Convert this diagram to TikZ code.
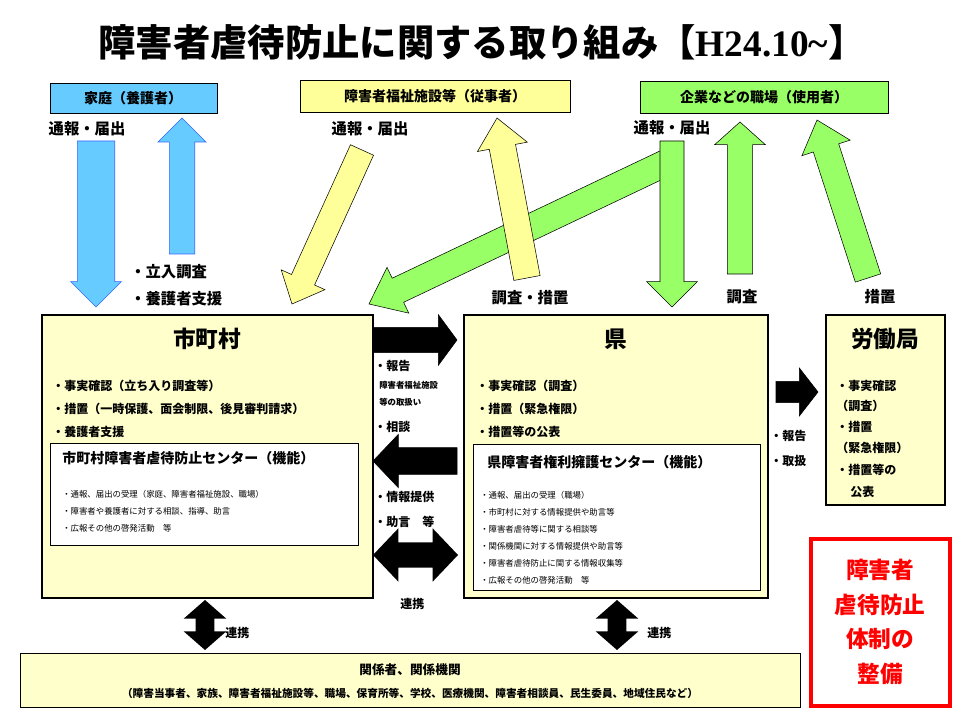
\documentclass[tikz,border=0pt]{standalone}
\usepackage{fontspec}
\setmainfont{Noto Sans CJK JP}[BoldFont={Noto Sans CJK JP Black}]
\newfontfamily\serifb{Liberation Serif}
\usetikzlibrary{calc}
\definecolor{cblue}{HTML}{66CCFF}
\definecolor{cyel}{HTML}{FFFF99}
\definecolor{cgreen}{HTML}{99FF66}
\definecolor{cbox}{HTML}{FFFFCC}
\newcommand\barrow[6]{%
 \coordinate (h) at ($(#3)!#6!(#2)$);
 \filldraw[#1] ($(#2)!#4!90:(#3)$) -- ($(h)!#4!-90:(#2)$) -- ($(h)!#5!-90:(#2)$) -- (#3) -- ($(h)!#5!90:(#2)$) -- ($(h)!#4!90:(#2)$) -- ($(#2)!#4!-90:(#3)$) -- cycle;}
\newcommand\dbarrow[6]{%
 \coordinate (h1) at ($(#3)!#6!(#2)$);
 \coordinate (h2) at ($(#2)!#6!(#3)$);
 \fill[#1] (#2) -- ($(h2)!#5!90:(#3)$) -- ($(h2)!#4!90:(#3)$) -- ($(h1)!#4!-90:(#2)$) -- ($(h1)!#5!-90:(#2)$) -- (#3) -- ($(h1)!#5!90:(#2)$) -- ($(h1)!#4!90:(#2)$) -- ($(h2)!#4!-90:(#3)$) -- ($(h2)!#5!-90:(#3)$) -- cycle;}
\tikzset{
 lbl/.style={font=\bfseries\fontsize{11.5}{13}\selectfont,inner sep=0pt},
 item/.style={anchor=west,font=\bfseries\fontsize{9}{10}\selectfont,inner sep=0pt},
 small/.style={anchor=west,font=\fontsize{6.3}{7}\selectfont,inner sep=0pt},
 head/.style={font=\bfseries\fontsize{10.5}{12}\selectfont,inner sep=0pt},
 mainbox/.style={draw=black,line width=2pt,fill=cbox},
 topbox/.style={draw=black,line width=0.6pt},
 blk/.style={fill=black},
}
\begin{document}
\begin{tikzpicture}[x=0.75pt,y=-0.75pt]
\useasboundingbox (0,0) rectangle (960,720);
\fill[white] (0,0) rectangle (960,720);
% title
\node[font=\bfseries\fontsize{28}{30}\selectfont,inner sep=0pt] (title) at (482,42) {障害者虐待防止に関する取り組み【{\serifb\bfseries H24.10\char`~}】};
% top boxes
\draw[topbox,fill=cblue] (50,83) rectangle (217,113);
\node[head] (home) at (133,98) {家庭（養護者）};
\draw[topbox,fill=cyel] (300,80) rectangle (570,112);
\node[head] (fac) at (435,96) {障害者福祉施設等（従事者）};
\draw[topbox,fill=cgreen] (640,81) rectangle (888,113);
\node[head] (work) at (764,97) {企業などの職場（使用者）};
% colored arrows
\coordinate (b1a) at (96,141); \coordinate (b1b) at (96,307);
\barrow{draw=blue!50!cblue,fill=cblue,line width=0.5pt}{b1a}{b1b}{14pt}{19pt}{19pt}
\coordinate (b2a) at (182,254); \coordinate (b2b) at (182,118);
\barrow{draw=blue!50!cblue,fill=cblue,line width=0.5pt}{b2a}{b2b}{9.5pt}{18pt}{18pt}
\coordinate (y1a) at (362,150); \coordinate (y1b) at (292,304);
\barrow{draw=black,fill=cyel,line width=0.4pt}{y1a}{y1b}{9.5pt}{18pt}{20pt}
\coordinate (g1a) at (672,160); \coordinate (g1b) at (369,304);
\barrow{draw=black,fill=cgreen,line width=0.4pt}{g1a}{g1b}{10pt}{19pt}{24pt}
\coordinate (y2a) at (527,278); \coordinate (y2b) at (497,118);
\barrow{draw=black,fill=cyel,line width=0.4pt}{y2a}{y2b}{10pt}{19pt}{22pt}
\coordinate (g2a) at (672,141); \coordinate (g2b) at (672,307);
\barrow{draw=black,fill=cgreen,line width=0.4pt}{g2a}{g2b}{9pt}{19pt}{19pt}
\coordinate (g3a) at (740,274); \coordinate (g3b) at (740,122);
\barrow{draw=black,fill=cgreen,line width=0.4pt}{g3a}{g3b}{9.5pt}{19pt}{17pt}
\coordinate (g4a) at (868,278); \coordinate (g4b) at (817,120);
\barrow{draw=black,fill=cgreen,line width=0.4pt}{g4a}{g4b}{10pt}{19pt}{22pt}
% arrow labels
\node[lbl] (l1) at (87,129) {通報・届出};
\node[lbl] (l2) at (370,129) {通報・届出};
\node[lbl] (l3) at (672,128) {通報・届出};
\node[lbl,anchor=west] (l4) at (130,272) {・立入調査};
\node[lbl,anchor=west] (l5) at (130,299) {・養護者支援};
\node[lbl] (l6) at (530,298) {調査・措置};
\node[lbl] (l7) at (742,297) {調査};
\node[lbl] (l8) at (880,297) {措置};
% main boxes
\draw[mainbox] (42,315) rectangle (373,598);
\node[font=\bfseries\fontsize{17}{20}\selectfont,inner sep=0pt] (city) at (207,339) {市町村};
\node[item] (c1) at (52,386) {・事実確認（立ち入り調査等）};
\node[item] (c2) at (52,409) {・措置（一時保護、面会制限、後見審判請求）};
\node[item] (c3) at (52,432) {・養護者支援};
\draw[fill=white,line width=0.5pt] (50,443) rectangle (358,545);
\node[head,anchor=west] (cc) at (62,458) {市町村障害者虐待防止センター（機能）};
\node[small] (cc1) at (62,494) {・通報、届出の受理（家庭、障害者福祉施設、職場）};
\node[small] (cc2) at (62,511) {・障害者や養護者に対する相談、指導、助言};
\node[small] (cc3) at (62,528) {・広報その他の啓発活動　等};
\draw[mainbox] (464,315) rectangle (768,598);
\node[font=\bfseries\fontsize{17}{20}\selectfont,inner sep=0pt] (pref) at (616,339) {県};
\node[item] (p1) at (476,386) {・事実確認（調査）};
\node[item] (p2) at (476,409) {・措置（緊急権限）};
\node[item] (p3) at (476,432) {・措置等の公表};
\draw[fill=white,line width=0.5pt] (473,444) rectangle (760,590);
\node[head,anchor=west] (pc) at (487,462) {県障害者権利擁護センター（機能）};
\node[small] (pc1) at (480,495) {・通報、届出の受理（職場）};
\node[small] (pc2) at (480,512) {・市町村に対する情報提供や助言等};
\node[small] (pc3) at (480,529) {・障害者虐待等に関する相談等};
\node[small] (pc4) at (480,546) {・関係機関に対する情報提供や助言等};
\node[small] (pc5) at (480,563) {・障害者虐待防止に関する情報収集等};
\node[small] (pc6) at (480,580) {・広報その他の啓発活動　等};
\draw[mainbox] (826,315) rectangle (945,505);
\node[font=\bfseries\fontsize{17}{20}\selectfont,inner sep=0pt] (lab) at (885,339) {労働局};
\node[item] (w1) at (836,386) {・事実確認};
\node[item] (w2) at (836,406) {（調査）};
\node[item] (w3) at (836,427) {・措置};
\node[item] (w4) at (836,448) {（緊急権限）};
\node[item] (w5) at (836,470) {・措置等の};
\node[item] (w6) at (850,492) {公表};
% black arrows
\coordinate (k1a) at (373,340); \coordinate (k1b) at (457,340);
\barrow{blk}{k1a}{k1b}{9.5pt}{19pt}{14pt}
\coordinate (k2a) at (457,461); \coordinate (k2b) at (373,461);
\barrow{blk}{k2a}{k2b}{10pt}{20pt}{19pt}
\coordinate (k3a) at (373,555); \coordinate (k3b) at (458,555);
\dbarrow{blk}{k3a}{k3b}{9.5pt}{20pt}{19pt}
\coordinate (k4a) at (776,392); \coordinate (k4b) at (818,392);
\barrow{blk}{k4a}{k4b}{8pt}{18pt}{14pt}
\coordinate (k5a) at (205,600); \coordinate (k5b) at (205,650);
\dbarrow{blk}{k5a}{k5b}{7pt}{16pt}{14pt}
\coordinate (k6a) at (617,600); \coordinate (k6b) at (617,650);
\dbarrow{blk}{k6a}{k6b}{7pt}{16pt}{14pt}
% middle labels
\node[item] (m1) at (374,366) {・報告};
\node[small,font=\bfseries\fontsize{6.3}{7}\selectfont] (m2) at (379,385) {障害者福祉施設};
\node[small,font=\bfseries\fontsize{6.3}{7}\selectfont] (m3) at (379,402) {等の取扱い};
\node[item] (m4) at (374,427) {・相談};
\node[item] (m5) at (374,497) {・情報提供};
\node[item] (m6) at (374,522) {・助言　等};
\node[item] (m7) at (400,604) {連携};
\node[item] (m8) at (770,436) {・報告};
\node[item] (m9) at (770,461) {・取扱};
\node[item] (m10) at (225,633) {連携};
\node[item] (m11) at (647,633) {連携};
% bottom box
\draw[fill=cbox,line width=0.5pt] (20,653) rectangle (800,707);
\node[head,font=\bfseries\fontsize{9.5}{11}\selectfont] (rel) at (410,670) {関係者、関係機関};
\node[head,font=\bfseries\fontsize{8}{10}\selectfont] (rel2) at (410,693) {（障害当事者、家族、障害者福祉施設等、職場、保育所等、学校、医療機関、障害者相談員、民生委員、地域住民など）};
% red box
\draw[draw=red,line width=3pt,fill=white] (811,539) rectangle (950,706);
\node[font=\bfseries\fontsize{17}{20}\selectfont,text=red,align=center,inner sep=0pt] (red) at (880,622) {障害者\\[6pt]虐待防止\\[6pt]体制の\\[6pt]整備};
\end{tikzpicture}
\end{document}
